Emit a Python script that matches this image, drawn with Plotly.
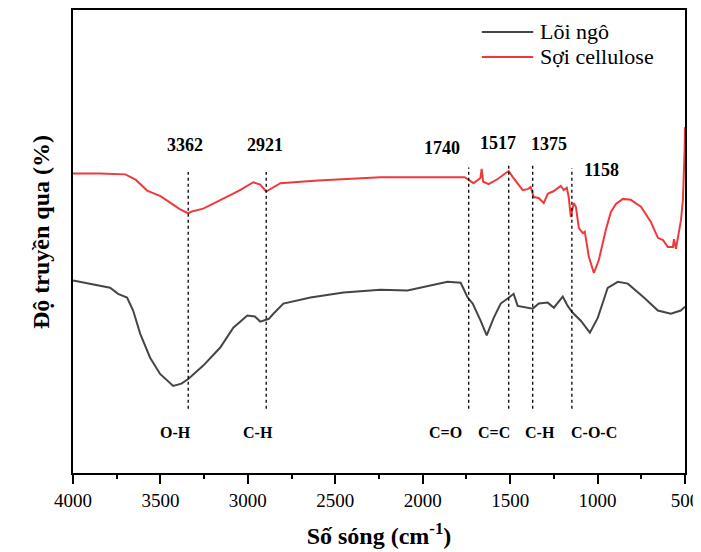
import plotly.graph_objects as go

# ---- data ----
wn_cell = [4000, 3850, 3700, 3640, 3576, 3500, 3444, 3390, 3341, 3320, 3255, 3150, 3050, 2969, 2930, 2895, 2860, 2814,
           2600, 2241, 2000, 1760, 1709, 1670, 1663, 1654, 1623, 1571, 1525, 1508, 1485, 1428, 1400, 1383,
           1365, 1337, 1308, 1285, 1250, 1211, 1193, 1176, 1165, 1153, 1136, 1124, 1107, 1084, 1073,
           1050, 1021, 993, 953, 924, 895, 855, 810, 752, 695, 655, 626, 598, 569, 563, 552, 535, 523,
           512, 506, 502, 500]
t_cell = [64.7, 64.7, 64.5, 63.3, 61.0, 59.8, 58.4, 57.0, 56.1, 56.5, 57.1, 59.1, 61.0, 62.8, 62.3, 60.8, 61.5, 62.6,
          63.2, 63.9, 63.9, 63.9, 62.6, 63.7, 65.7, 62.9, 62.4, 63.5, 64.8, 65.2, 63.9, 61.1, 61.3, 61.8,
          59.6, 59.4, 58.3, 60.3, 60.9, 62.0, 61.1, 61.6, 59.6, 55.3, 58.3, 57.5, 52.9, 51.8, 52.1,
          46.7, 43.2, 46.0, 52.5, 56.4, 58.1, 59.2, 59.0, 57.5, 54.2, 50.8, 50.3, 48.8, 48.8, 50.5, 48.4, 52.5, 54.6,
          59.0, 63.9, 69.8, 74.7]

wn_corn = [4000, 3900, 3788, 3742, 3691, 3656, 3616, 3559, 3502, 3427, 3380, 3341, 3255, 3158, 3083,
           3003, 2960, 2929, 2880, 2854, 2797, 2642, 2453, 2241, 2087, 1858, 1783, 1743, 1714, 1669,
           1634, 1594, 1554, 1514, 1480, 1457, 1400, 1371, 1336, 1285, 1250, 1199, 1171, 1142, 1096,
           1044, 999, 942, 884, 827, 735, 655, 581, 524, 500]
t_corn = [41.6, 40.9, 40.0, 38.7, 37.9, 35.1, 30.1, 24.9, 21.4, 18.8, 19.3, 20.3, 23.2, 27.1, 31.4,
          34.0, 33.8, 32.7, 33.3, 34.4, 36.6, 37.9, 39.0, 39.6, 39.4, 41.3, 41.1, 37.9, 36.6, 32.9,
          29.7, 33.5, 36.6, 37.7, 38.7, 36.1, 35.7, 35.5, 36.6, 36.8, 35.7, 38.1, 36.1, 34.6, 32.9,
          30.3, 33.5, 40.0, 41.3, 40.9, 37.9, 35.1, 34.4, 35.1, 35.9]

series_names = ["Lõi ngô", "Sợi cellulose"]
series_colors = ["#454545", "#f0393c"]

peak_labels = ["3362", "2921", "1740", "1517", "1375", "1158"]
peak_label_x = [3358, 2900, 1892, 1571, 1279, 976]
peak_label_y = [70.8, 70.8, 70.3, 71.2, 71.0, 65.4]
line_x = [3341, 2895, 1737, 1508, 1371, 1147]
line_top = [65.0, 65.0, 66.0, 66.8, 66.4, 65.8]
line_bottom = 13.9
group_labels = ["O-H", "C-H", "C=O", "C=C", "C-H", "C-O-C"]
group_label_x = [3416, 2940, 1869, 1594, 1331, 1021]
group_label_y = 8.7
x_ticks = [4000, 3500, 3000, 2500, 2000, 1500, 1000, 500]

FONT = "Liberation Serif"
FONT_TICK = "Times New Roman, Liberation Serif, serif"

fig = go.Figure()
fig.add_trace(go.Scatter(x=wn_corn, y=t_corn, mode="lines", name=series_names[0],
                         line=dict(color=series_colors[0], width=2), showlegend=False))
fig.add_trace(go.Scatter(x=wn_cell, y=t_cell, mode="lines", name=series_names[1],
                         line=dict(color=series_colors[1], width=2), showlegend=False))

# legend drawn in paper coordinates
leg_y = [0.9525, 0.8985]
for name, col, ly in zip(series_names, series_colors, leg_y):
    fig.add_shape(type="line", xref="paper", yref="paper", x0=0.668, x1=0.752, y0=ly, y1=ly,
                  line=dict(color=col, width=2))
    fig.add_annotation(xref="paper", yref="paper", x=0.760, y=ly, xanchor="left", yanchor="middle",
                       text=name, showarrow=False, font=dict(family=FONT, size=22, color="black"))

for xv, yt in zip(line_x, line_top):
    fig.add_shape(type="line", x0=xv, x1=xv, y0=line_bottom, y1=yt, xref="x", yref="y",
                  line=dict(color="black", width=1.3, dash="dot"))

for txt, xv, yv in zip(peak_labels, peak_label_x, peak_label_y):
    fig.add_annotation(x=xv, y=yv, text=f"<b>{txt}</b>", showarrow=False,
                       font=dict(family=FONT, size=18, color="black"))
for txt, xv in zip(group_labels, group_label_x):
    fig.add_annotation(x=xv, y=group_label_y, text=f"<b>{txt}</b>", showarrow=False,
                       font=dict(family=FONT, size=16, color="black"))

# y-axis title
fig.add_annotation(xref="paper", yref="paper", x=-0.0523, y=0.5205, textangle=-90,
                   xanchor="center", yanchor="middle",
                   text="<b>Độ truyền qua (%)</b>", showarrow=False,
                   font=dict(family=FONT, size=24, color="black"))

# the page body adds an 8 px offset, so the figure is sized to fit the 701x552 window
fig.update_layout(
    width=693, height=544,
    margin=dict(l=65, r=16, t=2, b=79),
    paper_bgcolor="white", plot_bgcolor="white",
    font=dict(family=FONT, color="black"),
    showlegend=False,
)
fig.update_xaxes(range=[4000, 500], tickvals=x_ticks, ticktext=[str(v) for v in x_ticks],
                 automargin=False,
                 ticks="outside", ticklen=9, tickwidth=1.5, tickcolor="black",
                 minor=dict(ticks="outside", ticklen=4, tickwidth=1.5, dtick=250, tickcolor="black"),
                 showline=True, linecolor="black", linewidth=1.5, mirror=True,
                 showgrid=False, zeroline=False,
                 tickfont=dict(family=FONT_TICK, size=19, color="black"),
                 title=dict(text="<b>Số sóng (cm<sup>-1</sup>)</b>", font=dict(family=FONT, size=24, color="black"),
                            standoff=18))
fig.update_yaxes(range=[0, 100], showticklabels=False, ticks="", automargin=False,
                 showline=True, linecolor="black", linewidth=1.5, mirror=True,
                 showgrid=False, zeroline=False)

fig.write_html("out.html")
